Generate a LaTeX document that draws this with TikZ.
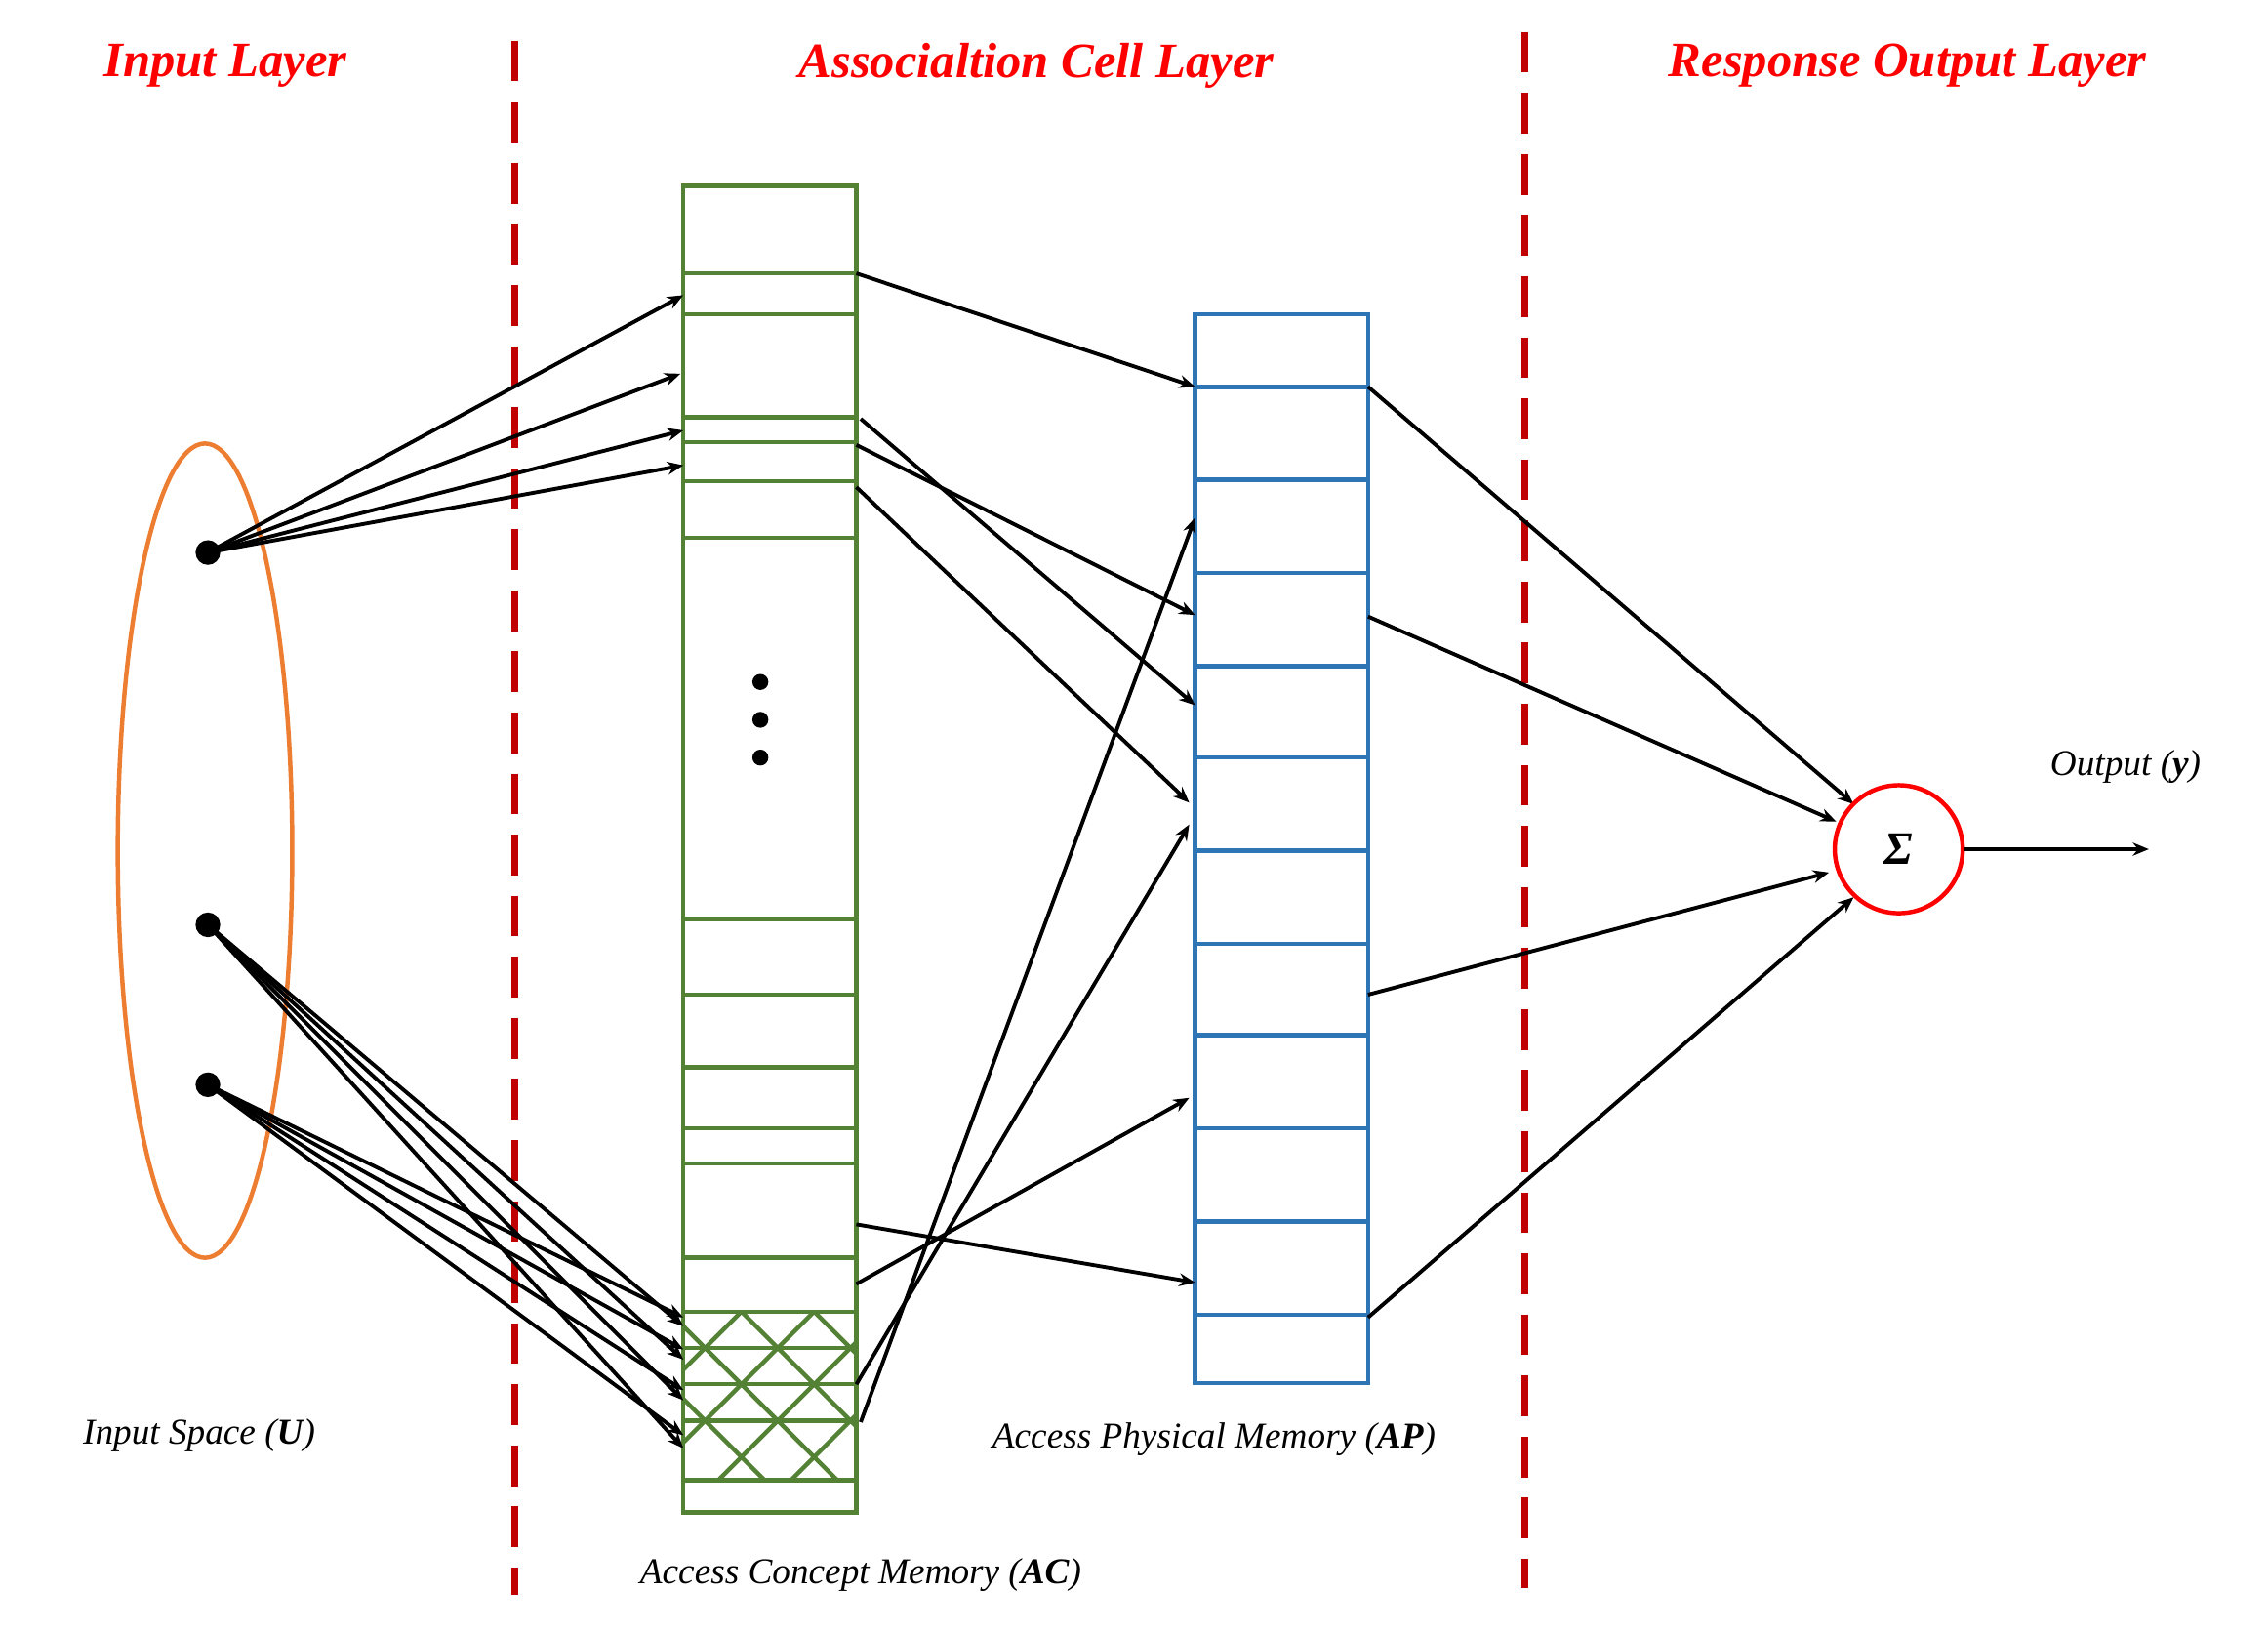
\documentclass[tikz,border=0pt]{standalone}
\usepackage{fontspec}
\setmainfont{Liberation Serif}
\usetikzlibrary{arrows.meta,shapes.geometric}
\definecolor{gr}{RGB}{84,130,53}
\definecolor{bl}{RGB}{46,117,182}
\definecolor{og}{RGB}{237,125,49}
\definecolor{dr}{RGB}{192,0,0}
\begin{document}
\begin{tikzpicture}[x=1pt,y=-1pt,
  arr/.style={line width=2.6pt,-{Stealth[length=11pt,width=9pt]}},
  gcell/.style={draw=gr,line width=3pt},
  bcell/.style={draw=bl,line width=3pt},
  head/.style={text=red,font=\fontsize{34}{40}\selectfont\bfseries\itshape},
  lab/.style={font=\fontsize{25}{30}\selectfont\itshape},
  dot/.style={circle,fill=black,inner sep=0pt,minimum size=17pt}]
\useasboundingbox (0,0) rectangle (1560,1121);
% dashed lines
\draw[dr,line width=5pt,dash pattern=on 28pt off 14pt] (354,28) -- (354,1097);
\draw[dr,line width=5pt,dash pattern=on 28pt off 14pt] (1049,22) -- (1049,1092);
% headings
\node[head] (h1) at (155,45) {Input Layer};
\node[head] (h2) at (713,45) {Associaltion Cell Layer};
\node[head] (h3) at (1312,45) {Response Output Layer};
% ellipse
\node[draw=og,line width=3pt,ellipse,minimum width=120pt,minimum height=560pt,inner sep=0pt] (ell) at (141,585) {};
\node[dot] (p1) at (143,380) {};
\node[dot] (p2) at (143,636) {};
\node[dot] (p3) at (143,746) {};
% green column
\draw[gcell] (470,128) rectangle (589,1040);
\foreach \y in {188,216,287,304,331,370,632,684,734,776,800,865,902,927,952,977,1018}
  \draw[gcell] (470,\y) -- (589,\y);
\begin{scope}
\clip (470,902) rectangle (589,1018);
\foreach \s in {-60,-10,40,90,140}
  \draw[gr,line width=3pt] (470+\s,902) -- (470+\s+116,1018);
\foreach \s in {40,90,140,190,240}
  \draw[gr,line width=3pt] (470+\s,902) -- (470+\s-116,1018);
\end{scope}
\foreach \y [count=\i] in {469,495,521} \node[circle,fill=black,inner sep=0pt,minimum size=11pt] (d\i) at (523,\y) {};
% blue column
\draw[bcell] (822,216) rectangle (941,951);
\foreach \y in {266,330,394,458,521,585,649,712,776,840,904}
  \draw[bcell] (822,\y) -- (941,\y);
% coordinates
\foreach \n/\x/\y in {a1/470/203,a2/468/257,a3/470/296,a4/470/320,
  b1/470/912,b2/470/935,b3/470/963,b4/470/996,
  c1/470/906,c2/470/928,c3/470/956,c4/470/987,
  g1/589/188,g2/592/288,g3/589/306,g4/589/335,g5/589/842,g6/589/883,g7/589/952,g8/592/978,
  q1/822/266,q2/822/485,q3/822/423,q4/818/552,q5/822/882,q6/818/755,q7/818/567,q8/822/356,
  r1/941/266,r2/941/424,r3/941/684,r4/941/906,
  s1/1275/553,s2/1263/565,s3/1258/600,s4/1275/617,o/1478/584}
  \coordinate (\n) at (\x,\y);
\foreach \t in {a1,a2,a3,a4} \draw[arr] (p1.center) -- (\t);
\foreach \t in {b1,b2,b3,b4} \draw[arr] (p2.center) -- (\t);
\foreach \t in {c1,c2,c3,c4} \draw[arr] (p3.center) -- (\t);
\foreach \i in {1,...,8} \draw[arr] (g\i) -- (q\i);
\foreach \i in {1,...,4} \draw[arr] (r\i) -- (s\i);
\node[circle,draw=red,line width=3pt,minimum size=88pt,inner sep=0pt,font=\fontsize{32}{36}\selectfont\bfseries\itshape] (sig) at (1306,584) {Σ};
\draw[arr] (sig.east) -- (o);
% labels
\node[lab] (lo) at (1462,527) {Output (\textbf{\textit{y}})};
\node[lab] (lu) at (137,987) {Input Space (\textbf{\textit{U}})};
\node[lab] (lap) at (835,990) {Access Physical Memory (\textbf{\textit{AP}})};
\node[lab] (lac) at (592,1083) {Access Concept Memory (\textbf{\textit{AC}})};
\end{tikzpicture}
\end{document}
